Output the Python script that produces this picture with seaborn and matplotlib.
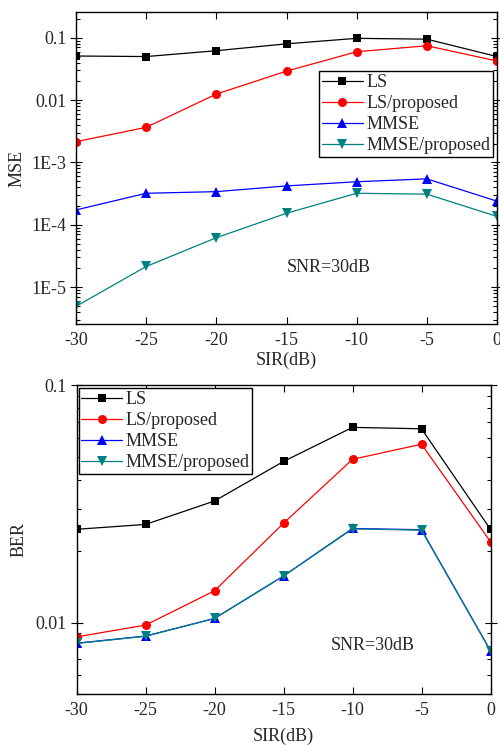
import numpy as np
import pandas as pd
import seaborn as sns
import matplotlib.pyplot as plt
from matplotlib.ticker import FixedLocator, FixedFormatter, LogLocator, NullFormatter

# dati
sir = [-30, -25, -20, -15, -10, -5, 0]

mse_ls = [0.051, 0.050, 0.062, 0.080, 0.098, 0.095, 0.050]
mse_ls_prop = [0.00215, 0.00366, 0.0125, 0.0292, 0.0597, 0.0745, 0.0424]
mse_mmse = [1.73e-4, 3.2e-4, 3.4e-4, 4.2e-4, 4.9e-4, 5.45e-4, 2.39e-4]
mse_mmse_prop = [4.9e-6, 2.14e-5, 6.2e-5, 1.53e-4, 3.2e-4, 3.1e-4, 1.36e-4]

ber_ls = [0.0247, 0.0259, 0.0325, 0.0477, 0.0664, 0.0655, 0.0247]
ber_ls_prop = [0.0087, 0.00975, 0.0136, 0.0262, 0.0487, 0.0564, 0.0219]
ber_mmse = [0.00818, 0.00877, 0.0104, 0.0157, 0.0249, 0.0246, 0.0076]
ber_mmse_prop = [0.00816, 0.00875, 0.0104, 0.0157, 0.0248, 0.0245, 0.0076]

labels = ["LS", "LS/proposed", "MMSE", "MMSE/proposed"]
colors = ["black", "red", "blue", "#008080"]
markers = ["s", "o", "^", "v"]
msizes = [5.5, 6.5, 6.5, 6.5]

sns.set_theme(style="ticks")
plt.rcParams['font.family'] = ['Liberation Serif', 'DejaVu Serif']

fig = plt.figure(figsize=(5.0, 7.45), dpi=100)
ax1 = fig.add_axes([0.152, 0.565, 0.842, 0.419])
ax2 = fig.add_axes([0.153, 0.0685, 0.828, 0.4145])

leg_opts = dict(fontsize=13, frameon=True, fancybox=False, edgecolor="black",
                framealpha=1, handlelength=2.25, borderpad=0.15,
                labelspacing=0.22, handletextpad=0.2, borderaxespad=0)


def draw(ax, series):
    for vals, lab, col, mk, ms in zip(series, labels, colors, markers, msizes):
        df = pd.DataFrame({"SIR": sir, "val": vals})
        sns.lineplot(data=df, x="SIR", y="val", ax=ax, color=col, marker=mk,
                     markersize=ms, markeredgewidth=0, linewidth=0.9, label=lab)
    ax.set_yscale("log")
    ax.set_xlim(-30, 0)
    ax.set_xticks(sir)
    ax.set_xticklabels([str(s) for s in sir])
    ax.tick_params(which="both", direction="in", top=True, right=True,
                   labelsize=13, color="black", width=0.8)
    ax.tick_params(axis="x", which="major", length=5, pad=6)
    ax.tick_params(axis="y", which="major", direction="inout", length=8, pad=3)
    ax.tick_params(which="minor", length=3)
    ax.yaxis.set_minor_locator(LogLocator(base=10, subs=np.arange(2, 10), numticks=30))
    ax.yaxis.set_minor_formatter(NullFormatter())
    for sp in ax.spines.values():
        sp.set_linewidth(1.0)
        sp.set_color("black")
    ax.set_xlabel("SIR(dB)", fontsize=13, labelpad=2)


draw(ax1, [mse_ls, mse_ls_prop, mse_mmse, mse_mmse_prop])
ax1.set_ylim(2.55e-6, 0.26)
ax1.yaxis.set_major_locator(FixedLocator([1e-5, 1e-4, 1e-3, 1e-2, 1e-1]))
ax1.yaxis.set_major_formatter(FixedFormatter(["1E-5", "1E-4", "1E-3", "0.01", "0.1"]))
ax1.set_ylabel("MSE", fontsize=13, labelpad=4)
ax1.text(0.6, 0.18, "SNR=30dB", transform=ax1.transAxes, fontsize=13,
         ha="center", va="center")
ax1.legend(loc="upper left", bbox_to_anchor=(0.578, 0.81), **leg_opts)

draw(ax2, [ber_ls, ber_ls_prop, ber_mmse, ber_mmse_prop])
ax2.set_ylim(0.005, 0.1)
ax2.yaxis.set_major_locator(FixedLocator([0.01, 0.1]))
ax2.yaxis.set_major_formatter(FixedFormatter(["0.01", "0.1"]))
ax2.set_ylabel("BER", fontsize=13, labelpad=6)
ax2.text(0.716, 0.156, "SNR=30dB", transform=ax2.transAxes, fontsize=13,
         ha="center", va="center")
ax2.legend(loc="upper left", bbox_to_anchor=(0.005, 0.99), **leg_opts)
ax2.xaxis.labelpad = 6

fig.savefig("out.png", dpi=100)
plt.close(fig)
